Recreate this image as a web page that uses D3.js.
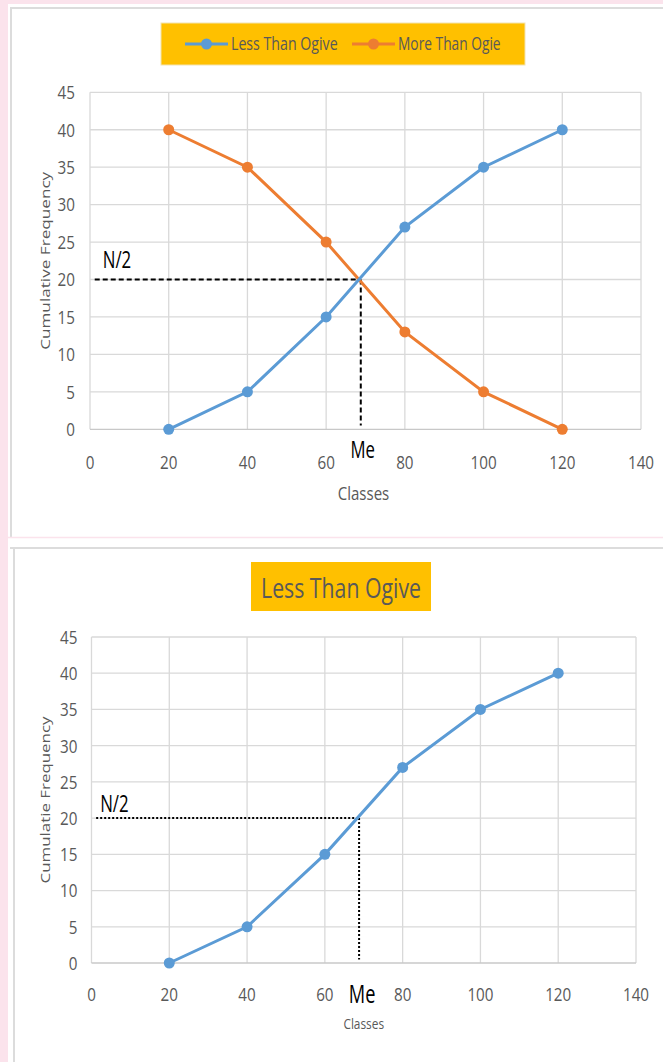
<!DOCTYPE html>
<html><head><meta charset="utf-8">
<script src="https://cdn.jsdelivr.net/npm/d3@7"></script>
<style>
html,body{margin:0;padding:0;background:#fff;}
svg{display:block;}
text{font-family:"Open Sans","Liberation Sans",sans-serif;}
</style></head>
<body>
<svg id="c" width="663" height="1062"></svg>
<script>
// ---- data ----
const classes = [20, 40, 60, 80, 100, 120];
const lessThan = [0, 5, 15, 27, 35, 40];
const moreThan = [40, 35, 25, 13, 5, 0];
const xTicks = [0, 20, 40, 60, 80, 100, 120, 140];
const yTicks = [0, 5, 10, 15, 20, 25, 30, 35, 40, 45];
const halfN = 20;          // N/2
const medianX = 68.8;      // Me
const guideStartX = 1.2;
const guideEndY = 0.5;

const svg = d3.select("#c");
const pink = "#fbe3ec", grid = "#d9d9d9", txt = "#595959";
const blue = "#5b9bd5", orange = "#ed7d31", gold = "#ffc000";

// page background & panels
svg.append("rect").attr("x",0).attr("y",0).attr("width",663).attr("height",4).attr("fill",pink);
svg.append("rect").attr("x",0).attr("y",0).attr("width",8).attr("height",1062).attr("fill",pink);
svg.append("rect").attr("x",11).attr("y",8).attr("width",670).attr("height",540).attr("fill","none").attr("stroke","#dcdcdc").attr("stroke-width",2);
svg.append("rect").attr("x",8).attr("y",537).attr("width",655).attr("height",10).attr("fill","#fff");
svg.append("line").attr("x1",8).attr("x2",663).attr("y1",537.5).attr("y2",537.5).attr("stroke",pink).attr("stroke-width",1.5);
svg.append("rect").attr("x",14).attr("y",548).attr("width",670).attr("height",540).attr("fill","none").attr("stroke","#dcdcdc").attr("stroke-width",2);

function drawChart(cfg){
  const g = svg.append("g");
  const x = d3.scaleLinear().domain([0,140]).range(cfg.xr);
  const y = d3.scaleLinear().domain([0,45]).range(cfg.yr);
  // grid
  g.selectAll(".gx").data(xTicks).join("line")
    .attr("x1",d=>x(d)).attr("x2",d=>x(d)).attr("y1",y(0)).attr("y2",y(45))
    .attr("stroke",grid).attr("stroke-width",1.3);
  g.selectAll(".gy").data(yTicks).join("line")
    .attr("x1",x(0)).attr("x2",x(140)).attr("y1",d=>y(d)).attr("y2",d=>y(d))
    .attr("stroke",d=>d===0?"#c8c8c8":grid).attr("stroke-width",1.3);
  // tick labels
  g.selectAll(".ty").data(yTicks).join("text").attr("class","nar")
    .attr("x",x(0)-cfg.yLabGap).attr("y",d=>y(d)).attr("dy","0.36em")
    .attr("text-anchor","end").attr("font-size",cfg.tickFs).attr("fill",txt).text(d=>d);
  g.selectAll(".tx").data(xTicks).join("text").attr("class","nar")
    .attr("x",d=>x(d)).attr("y",y(0)+cfg.xLabGap).attr("dy","0.36em")
    .attr("text-anchor","middle").attr("font-size",cfg.tickFs).attr("fill",txt).text(d=>d);
  // axis titles
  g.append("text").attr("class","nar").attr("x",(x(0)+x(140))/2+cfg.classesDx).attr("y",cfg.classesY).attr("text-anchor","middle")
    .attr("font-size",cfg.classesFs).attr("fill",txt).text("Classes");
  g.append("text").attr("transform",`translate(${cfg.ytX},${(y(0)+y(45))/2}) rotate(-90)`)
    .attr("text-anchor","middle").attr("dy","0.35em").attr("font-size",13).attr("fill",txt)
    .attr("textLength",cfg.ytLen).attr("lengthAdjust","spacingAndGlyphs").text(cfg.yTitle);
  // guides
  const dash = cfg.dotted ? "2,2" : "5,3";
  g.append("line").attr("x1",x(guideStartX)).attr("x2",x(medianX)).attr("y1",y(halfN)).attr("y2",y(halfN))
    .attr("stroke","#000").attr("stroke-width",2).attr("stroke-dasharray",dash);
  g.append("line").attr("x1",x(medianX)).attr("x2",x(medianX)).attr("y1",y(halfN)).attr("y2",y(guideEndY))
    .attr("stroke","#000").attr("stroke-width",2).attr("stroke-dasharray",dash);
  g.append("text").attr("class","nar").attr("x",x(guideStartX)+cfg.n2Dx).attr("y",y(halfN)-cfg.n2Dy).attr("font-size",cfg.n2Fs).attr("fill","#000").text("N/2");
  g.append("text").attr("class","nar").attr("x",x(medianX)+cfg.meDx).attr("y",y(0)+cfg.meDy).attr("dy","0.36em").attr("text-anchor","middle")
    .attr("font-size",cfg.meFs).attr("fill","#000").text("Me");
  // series
  const line = d3.line().x(d=>x(d[0])).y(d=>y(d[1]));
  cfg.series.forEach(s=>{
    const pts = classes.map((c,i)=>[c,s.values[i]]);
    g.append("path").datum(pts).attr("d",line).attr("fill","none").attr("stroke",s.color).attr("stroke-width",3);
    g.selectAll(null).data(pts).join("circle").attr("cx",d=>x(d[0])).attr("cy",d=>y(d[1])).attr("r",5.5).attr("fill",s.color);
  });
  return {x,y};
}

drawChart({
  xr:[90,641], yr:[429.3,92.3], yLabGap:15, xLabGap:33, tickFs:19,
  classesY:500, classesFs:19, classesDx:-2, ytX:45, ytLen:178, yTitle:"Cumulative Frequency",
  dotted:false, n2Dx:8, n2Dy:12, n2Fs:23, meDx:2, meDy:20, meFs:23,
  series:[{values:moreThan,color:orange},{values:lessThan,color:blue}]
});
drawChart({
  xr:[91.5,636], yr:[963,637], yLabGap:14, xLabGap:31, tickFs:19,
  classesY:1029, classesFs:15, classesDx:0, ytX:45, ytLen:167, yTitle:"Cumulatie Frequency",
  dotted:true, n2Dx:4, n2Dy:6, n2Fs:23, meDx:3, meDy:31, meFs:25,
  series:[{values:lessThan,color:blue}]
});

// legend (chart 1)
const leg = svg.append("g");
leg.append("rect").attr("x",161).attr("y",23).attr("width",364).attr("height",42).attr("fill",gold).attr("stroke","#f2e3b0").attr("stroke-width",1);
const legItems = [{name:"Less Than Ogive",color:blue,x:185},{name:"More Than Ogie",color:orange,x:352}];
legItems.forEach(it=>{
  leg.append("line").attr("x1",it.x).attr("x2",it.x+43).attr("y1",44).attr("y2",44).attr("stroke",it.color).attr("stroke-width",3);
  leg.append("circle").attr("cx",it.x+21.5).attr("cy",44).attr("r",5.5).attr("fill",it.color);
  leg.append("text").attr("class","nar").attr("x",it.x+46).attr("y",44).attr("dy","0.36em").attr("font-size",18).attr("fill",txt).text(it.name);
});
// title (chart 2)
svg.append("rect").attr("x",251).attr("y",562).attr("width",180).attr("height",49).attr("fill",gold);
svg.append("text").attr("class","nar").attr("x",341).attr("y",588).attr("dy","0.36em").attr("text-anchor","middle").attr("font-size",27).attr("fill",txt).text("Less Than Ogive");

// condense text horizontally to mimic the narrow source font:
// target width = width of the same string in a condensed face * 0.8
const probe = svg.append("text").attr("x",-999).attr("y",-999)
  .style("font-family","'DejaVu Sans Condensed','Liberation Sans Narrow',sans-serif");
svg.selectAll("text.nar").each(function(){
  const el = d3.select(this);
  probe.attr("font-size", el.attr("font-size")).text(el.text());
  const w = probe.node().getComputedTextLength();
  el.attr("textLength", w*0.8).attr("lengthAdjust","spacingAndGlyphs");
});
probe.remove();
</script>
</body></html>
